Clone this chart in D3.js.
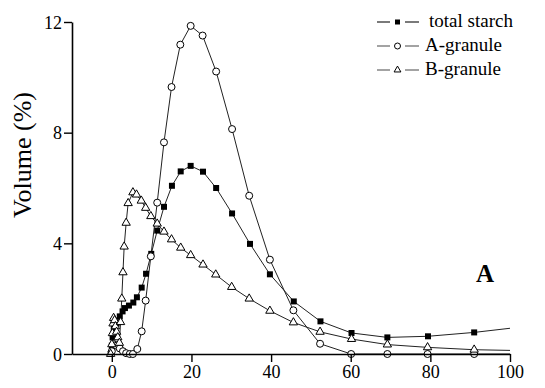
<!DOCTYPE html>
<html>
<head>
<meta charset="utf-8">
<script src="https://cdn.jsdelivr.net/npm/d3@7"></script>
<style>
  body { margin: 0; background: #fff; }
  svg text { font-family: "Liberation Serif", "Times New Roman", serif; fill: #000; }
</style>
</head>
<body>
<svg width="545" height="388"></svg>
<script>
// size (x) and volume % (y)
var totalX = [-0.3, 0, 0.2, 0.5, 1.2, 2.0, 2.7, 3.3, 4.3, 5.4, 6.3, 7.5, 8.6, 9.9, 11.4, 13.1, 15.1, 17.3, 19.8, 22.9, 26.2, 30.2, 34.7, 39.7, 45.7, 52.4, 60.2, 69.2, 79.4, 91.0, 100];
var totalY = [0.0, 0.3, 0.6, 0.9, 1.1, 1.36, 1.54, 1.66, 1.75, 1.86, 2.05, 2.4, 2.9, 3.62, 4.46, 5.32, 6.08, 6.6, 6.8, 6.59, 6.0, 5.08, 3.98, 2.88, 1.9, 1.18, 0.76, 0.6, 0.64, 0.78, 0.93];

var aX = [0, 0.5, 1.2, 2.0, 2.8, 3.6, 4.5, 5.3, 6.4, 7.5, 8.5, 9.8, 11.4, 13.1, 15.0, 17.2, 19.8, 22.8, 26.2, 30.2, 34.5, 39.7, 45.6, 52.3, 60.1, 69.2, 79.3, 91.0, 100];
var aY = [0.1, 0.35, 0.3, 0.2, 0.1, 0.03, 0.0, 0.0, 0.18, 0.82, 1.93, 3.53, 5.47, 7.65, 9.65, 11.18, 11.86, 11.51, 10.21, 8.13, 5.72, 3.41, 1.58, 0.37, 0.0, 0.0, 0.0, 0.0, 0.0];

var bX = [-0.3, 0, 0.15, 0.3, 0.45, 0.7, 0.9, 1.2, 1.5, 1.9, 2.2, 2.5, 2.8, 3.1, 3.6, 4.1, 5.3, 6.2, 7.4, 8.5, 9.8, 11.4, 13.1, 15.0, 17.3, 19.8, 22.9, 26.1, 30.1, 34.5, 39.7, 45.6, 52.3, 60.2, 69.2, 79.3, 91.0, 100];
var bY = [0.0, 0.35, 0.75, 1.1, 1.3, 1.22, 1.0, 0.8, 0.6, 0.4, 1.15, 2.0, 2.95, 3.88, 4.74, 5.45, 5.84, 5.76, 5.54, 5.28, 4.98, 4.71, 4.42, 4.14, 3.84, 3.57, 3.23, 2.87, 2.42, 2.0, 1.56, 1.14, 0.8, 0.54, 0.34, 0.24, 0.155, 0.13];

var xTicks = [0, 20, 40, 60, 80, 100];
var yTicks = [0, 4, 8, 12];
var seriesNames = ["total starch", "A-granule", "B-granule"];

var svg = d3.select("svg");
var x = d3.scaleLinear().domain([-10, 100]).range([72, 510]);
var y = d3.scaleLinear().domain([0, 12]).range([354, 22]);

function pts(xs, ys) {
  return xs.map(function(v, i) { return [v, ys[i]]; });
}
var series = [
  { pts: pts(totalX, totalY), shape: "square" },
  { pts: pts(aX, aY), shape: "circle" },
  { pts: pts(bX, bY), shape: "triangle" }
];

var line = d3.line().x(function(d) { return x(d[0]); }).y(function(d) { return y(d[1]); });

// lines
series.forEach(function(s) {
  svg.append("path")
    .attr("d", line(s.pts))
    .attr("fill", "none")
    .attr("stroke", "#222")
    .attr("stroke-width", 1);
});

function drawMarker(sel, shape) {
  if (shape === "circle") {
    sel.append("circle").attr("r", 3.5)
      .attr("fill", "#fff").attr("stroke", "#000").attr("stroke-width", 1);
  } else if (shape === "square") {
    sel.append("path").attr("d", d3.symbol(d3.symbolSquare, 36)())
      .attr("fill", "#000");
  } else {
    sel.append("path").attr("d", d3.symbol(d3.symbolTriangle, 30)())
      .attr("fill", "#fff").attr("stroke", "#000").attr("stroke-width", 1);
  }
}

// markers (no marker on the last point at the right edge)
series.forEach(function(s) {
  var g = svg.append("g").selectAll("g")
    .data(s.pts.filter(function(d) { return d[0] < 100; }))
    .join("g")
    .attr("transform", function(d) { return "translate(" + x(d[0]) + "," + y(d[1]) + ")"; });
  drawMarker(g, s.shape);
});

// axes
var xAxis = svg.append("g")
  .attr("transform", "translate(0,354)")
  .call(d3.axisBottom(x).tickValues(xTicks).tickSize(8).tickPadding(3).tickSizeOuter(0));
var yAxis = svg.append("g")
  .attr("transform", "translate(72,0)")
  .call(d3.axisLeft(y).tickValues(yTicks).tickSize(8).tickPadding(2).tickSizeOuter(0));

[xAxis, yAxis].forEach(function(a) {
  a.attr("font-family", "'Liberation Serif', serif").attr("font-size", 18);
  a.select(".domain").attr("stroke", "#000").attr("stroke-width", 1.6);
  a.selectAll(".tick line").attr("stroke", "#000").attr("stroke-width", 1.4);
  a.selectAll(".tick text").attr("fill", "#000");
});
yAxis.selectAll(".tick text").attr("dy", "0.34em");

svg.append("text")
  .attr("transform", "translate(31,155) rotate(-90)")
  .attr("text-anchor", "middle")
  .style("font-size", "26px")
  .text("Volume (%)");

svg.append("text")
  .attr("x", 476).attr("y", 282)
  .style("font-size", "25px")
  .style("font-weight", "bold")
  .text("A");

// legend
var legend = svg.append("g");
seriesNames.forEach(function(name, i) {
  var cy = 22 + i * 24;
  var col = i === 0 ? "#222" : "#666";
  legend.append("line").attr("x1", 377).attr("x2", 390).attr("y1", cy).attr("y2", cy)
    .attr("stroke", col).attr("stroke-width", 1.2);
  legend.append("line").attr("x1", 405).attr("x2", 419).attr("y1", cy).attr("y2", cy)
    .attr("stroke", col).attr("stroke-width", 1.2);
  var m = legend.append("g").attr("transform", "translate(397.5," + cy + ")");
  if (series[i].shape === "circle") {
    m.append("circle").attr("r", 3).attr("fill", "#fff").attr("stroke", "#000").attr("stroke-width", 1);
  } else if (series[i].shape === "square") {
    m.append("path").attr("d", d3.symbol(d3.symbolSquare, 25)()).attr("fill", "#000");
  } else {
    m.append("path").attr("d", d3.symbol(d3.symbolTriangle, 20)())
      .attr("fill", "#fff").attr("stroke", "#000").attr("stroke-width", 1);
  }
  legend.append("text")
    .attr("x", i === 0 ? 429 : 425).attr("y", cy + 5)
    .style("font-size", "19px")
    .text(name);
});
</script>
</body>
</html>
